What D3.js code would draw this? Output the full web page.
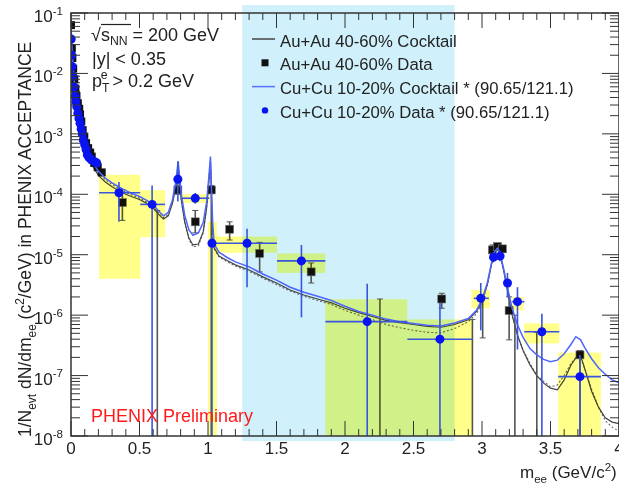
<!doctype html>
<html>
<head>
<meta charset='utf-8'>
<title>dielectron mass spectrum</title>
<script src='https://cdn.jsdelivr.net/npm/d3@7/dist/d3.min.js'></script>
<style>
  html,body{margin:0;padding:0;background:#fff;}
  svg{display:block;font-family:'Liberation Sans',Arial,sans-serif;}
  .blend{mix-blend-mode:multiply;}
</style>
</head>
<body>
<div id='chart'></div>
<script>
// ---- data ----
var massTicks = [0,0.5,1,1.5,2,2.5,3,3.5,4]
var decades   = [-8,-7,-6,-5,-4,-3,-2,-1]
var cyanBand  = [1.25,2.8]

// Cu+Cu cocktail, scaled
var cuCocktail = [[0,6e-2],[0.005,3.5e-2],[0.01,2.0e-2],[0.02,9.5e-3],[0.03,5.2e-3],[0.04,3.3e-3],[0.05,2.4e-3],[0.06,1.8e-3],
  [0.075,1.25e-3],[0.09,8.6e-4],[0.1,7.2e-4],[0.12,5.1e-4],[0.15,3.6e-4],[0.2,2.4e-4],[0.25,1.85e-4],[0.3,1.55e-4],[0.35,1.32e-4],
  [0.4,1.15e-4],[0.45,1.02e-4],[0.5,9.2e-5],[0.55,8.0e-5],[0.6,6.7e-5],[0.65,5.0e-5],[0.675,4.4e-5],[0.71,5.0e-5],[0.74,8.0e-5],
  [0.765,1.6e-4],[0.782,3.5e-4],[0.792,2.0e-4],[0.805,1.0e-4],[0.83,4.5e-5],[0.86,2.6e-5],[0.89,2.1e-5],[0.93,2.3e-5],[0.965,3.4e-5],
  [0.99,7.5e-5],[1.005,1.8e-4],[1.018,4.2e-4],[1.028,8e-5],[1.035,3e-5],[1.045,1.5e-5],[1.08,1.1e-5],[1.14,9e-6],[1.2,7.6e-6],
  [1.3,6.3e-6],[1.4,4.8e-6],[1.5,3.8e-6],[1.6,2.9e-6],[1.7,2.4e-6],[1.8,2.05e-6],[1.9,1.75e-6],[2.0,1.4e-6],[2.1,1.15e-6],
  [2.2,1.0e-6],[2.3,8.6e-7],[2.4,7.8e-7],[2.5,7.3e-7],[2.6,6.8e-7],[2.7,6.6e-7],[2.8,7.4e-7],[2.9,8.8e-7],[2.96,1.2e-6],
  [3.0,1.8e-6],[3.04,3.5e-6],[3.07,7.5e-6],[3.095,1.15e-5],[3.113,1.28e-5],[3.13,1.1e-5],[3.16,5.6e-6],[3.19,2.6e-6],
  [3.22,1.3e-6],[3.26,6.8e-7],[3.3,4.3e-7],[3.35,2.8e-7],[3.4,2.2e-7],[3.45,1.85e-7],[3.5,1.7e-7],[3.55,1.8e-7],[3.6,2.3e-7],
  [3.65,3.3e-7],[3.685,4.4e-7],[3.72,3.9e-7],[3.75,2.9e-7],[3.8,1.9e-7],[3.85,1.35e-7],[3.9,1.05e-7],[3.95,8.5e-8],[4.0,7.6e-8]]

// Au+Au cocktail (solid) and its dotted companion
var auCocktail = [[0,6e-2],[0.005,3.5e-2],[0.01,2.0e-2],[0.02,9.5e-3],[0.03,5.2e-3],[0.04,3.3e-3],[0.05,2.4e-3],[0.06,1.8e-3],
  [0.075,1.2e-3],[0.09,8.2e-4],[0.1,6.6e-4],[0.12,4.5e-4],[0.15,3.1e-4],[0.2,2.05e-4],[0.25,1.6e-4],[0.3,1.33e-4],[0.35,1.14e-4],
  [0.4,1.0e-4],[0.45,9.0e-5],[0.5,8.2e-5],[0.55,7.1e-5],[0.6,5.9e-5],[0.65,4.4e-5],[0.675,3.9e-5],[0.71,4.4e-5],[0.74,7.0e-5],
  [0.765,1.3e-4],[0.782,2.6e-4],[0.792,1.6e-4],[0.805,8e-5],[0.83,3.5e-5],[0.86,1.9e-5],[0.89,1.45e-5],[0.93,1.5e-5],[0.965,2.4e-5],
  [0.99,6e-5],[1.005,1.5e-4],[1.018,3.5e-4],[1.028,6e-5],[1.035,2.4e-5],[1.045,1.3e-5],[1.08,9.5e-6],[1.14,8e-6],[1.2,6.8e-6],
  [1.3,5.6e-6],[1.4,4.3e-6],[1.5,3.4e-6],[1.6,2.6e-6],[1.7,2.15e-6],[1.8,1.85e-6],[1.9,1.6e-6],[2.0,1.3e-6],[2.1,1.1e-6],
  [2.2,9.5e-7],[2.3,8.2e-7],[2.4,7.5e-7],[2.5,7.0e-7],[2.6,6.5e-7],[2.7,6.3e-7],[2.8,7.0e-7],[2.9,8.4e-7],[2.96,1.15e-6],
  [3.0,1.7e-6],[3.04,3.3e-6],[3.07,7e-6],[3.095,1.1e-5],[3.113,1.22e-5],[3.13,1.05e-5],[3.16,5.2e-6],[3.19,2.3e-6],[3.22,1.0e-6],
  [3.26,4.6e-7],[3.3,2.6e-7],[3.35,1.5e-7],[3.4,1.0e-7],[3.45,7.5e-8],[3.5,6.2e-8],[3.55,5.8e-8],[3.6,8.5e-8],[3.65,1.5e-7],
  [3.7,2.2e-7],[3.73,1.8e-7],[3.76,1.1e-7],[3.8,5.5e-8],[3.85,3e-8],[3.9,2.0e-8],[3.95,1.7e-8],[4.0,1.6e-8]]

var auCocktailDot = [[0.1,7.0e-4],[0.12,4.9e-4],[0.15,3.4e-4],[0.2,2.25e-4],[0.25,1.75e-4],[0.3,1.45e-4],[0.35,1.24e-4],
  [0.4,1.08e-4],[0.45,9.6e-5],[0.5,8.6e-5],[0.55,7.5e-5],[0.6,6.2e-5],[0.65,4.6e-5],[0.675,4.1e-5],[0.71,4.6e-5],[0.74,7.2e-5],
  [0.765,1.35e-4],[0.782,2.7e-4],[0.792,1.6e-4],[0.805,8e-5],[0.83,3.4e-5],[0.86,1.8e-5],[0.89,1.35e-5],[0.93,1.4e-5],
  [0.965,2.3e-5],[0.99,5.8e-5],[1.005,1.5e-4],[1.018,3.4e-4],[1.028,5.5e-5],[1.035,2.2e-5],[1.045,1.25e-5],[1.08,9.2e-6],
  [1.14,7.6e-6],[1.2,6.5e-6],[1.3,5.3e-6],[1.4,4.1e-6],[1.5,3.2e-6],[1.6,2.5e-6],[1.7,2.05e-6],[1.8,1.75e-6],[1.9,1.5e-6],
  [2.0,1.2e-6],[2.1,1.0e-6],[2.2,8.4e-7],[2.3,7.0e-7],[2.4,6.2e-7],[2.5,5.6e-7],[2.6,5.2e-7],[2.7,5.1e-7],[2.8,6.0e-7],
  [2.9,7.8e-7],[2.96,1.05e-6],[3.0,1.6e-6],[3.04,3.2e-6],[3.07,7e-6],[3.095,1.1e-5],[3.113,1.22e-5],[3.13,1.05e-5],
  [3.16,5.2e-6],[3.19,2.3e-6],[3.22,1.0e-6],[3.26,4.6e-7],[3.3,2.6e-7],[3.4,1.0e-7],[3.5,6.5e-8],[3.55,7e-8],[3.6,1.0e-7],
  [3.65,1.6e-7],[3.71,2.3e-7],[3.75,1.3e-7],[3.8,6e-8],[3.85,3e-8],[3.9,1.8e-8],[3.95,1.4e-8],[4.0,1.2e-8]]

// low-mass data points [m, value]
var cuLowMass = [[0.002,3.7e-2],[0.005,2.0e-2],[0.008,1.3e-2],[0.014,9e-3],[0.022,6e-3],[0.03,4.2e-3],[0.036,3.4e-3],
  [0.042,2.8e-3],[0.05,2.2e-3],[0.058,1.8e-3],[0.066,1.5e-3],[0.074,1.2e-3],[0.082,1.0e-3],[0.09,7.9e-4],[0.1,6.6e-4],
  [0.11,5.5e-4],[0.119,4.5e-4],[0.13,4.1e-4],[0.14,3.9e-4],[0.151,3.7e-4],[0.17,3.5e-4],[0.188,3.3e-4]]
var auLowMass = [[0.0,6.3e-2],[0.006,2.6e-2],[0.01,1.8e-2],[0.016,1.2e-2],[0.024,8e-3],[0.032,5.6e-3],[0.04,4.2e-3],
  [0.05,3.2e-3],[0.06,2.6e-3],[0.066,2.1e-3],[0.075,1.6e-3],[0.085,1.15e-3],[0.097,9e-4],[0.11,7e-4],[0.125,5.8e-4],
  [0.14,4.9e-4],[0.151,4.2e-4],[0.17,3.3e-4],[0.195,2.8e-4],[0.224,2.3e-4]]

// Cu+Cu binned data [m, value, mLo, mHi, errLo, errHi]
var cuBins = [[0.35,1.06e-4,0.205,0.505,3.5e-5,1.6e-4],[0.592,6.8e-5,0.505,0.687,1e-9,1.4e-4],
  [0.78,1.77e-4,0.78,0.78,7.6e-5,3.5e-4],[0.907,8.6e-5,0.81,1.01,7.0e-5,1.05e-4],[1.029,1.55e-5,1.0,1.065,1e-9,2.0e-5],
  [1.285,1.55e-5,1.065,1.504,2.9e-6,2.7e-5],[1.682,7.9e-6,1.504,1.857,9.2e-7,1.45e-5],[2.162,7.8e-7,1.857,2.455,1e-9,3.3e-6],
  [2.693,4.0e-7,2.455,2.93,1e-9,1.6e-6],[2.991,1.9e-6,2.94,3.05,5.6e-7,3.4e-6],[3.084,9.1e-6,3.084,3.084,7.5e-6,1.1e-5],
  [3.132,9.5e-6,3.132,3.132,7.8e-6,1.15e-5],[3.186,3.4e-6,3.186,3.186,2.0e-6,5.0e-6],[3.259,1.67e-6,3.22,3.31,2.7e-7,2.9e-6],
  [3.437,5.3e-7,3.308,3.564,1e-9,1.05e-6],[3.715,9.6e-8,3.556,3.868,1e-9,2.2e-7]]

// Au+Au binned data [m, value, errLo, errHi]
var auBins = [[0.375,7.3e-5,3.7e-5,1.2e-4],[0.78,1.18e-4,1.0e-4,1.4e-4],[0.907,3.5e-5,2.3e-5,5.4e-5],
  [1.024,1.18e-4,1e-9,1.4e-4],[1.158,2.64e-5,1.75e-5,3.5e-5],[1.377,1.05e-5,5.2e-6,1.6e-5],[1.753,5.2e-6,3.4e-6,7.3e-6],
  [2.706,1.85e-6,1.3e-6,2.3e-6],[3.076,1.2e-5,1.05e-5,1.45e-5],[3.113,1.36e-5,1.2e-5,1.55e-5],[3.149,1.25e-5,1.1e-5,1.4e-5],
  [3.198,1.19e-6,3.9e-7,2.0e-6],[3.715,2.2e-7,1e-9,2.6e-7]]
// Au+Au points whose marker sits off scale: only the error bar shows [m, errLo, errHi]
var auErrOnly = [[0.63,1e-9,5.4e-5],[2.255,1e-9,1.85e-6],[2.93,1e-9,8.5e-7],[3.005,4.2e-7,2.0e-6],[3.24,1e-9,1.0e-6],[3.40,1e-9,5.2e-7]]

// systematic boxes [mLo, mHi, lo, hi]
var sysBoxes = [[0.205,0.505,4.0e-6,2.1e-4],[0.505,0.687,1.95e-5,1.17e-4],[0.81,1.01,7.2e-5,1.0e-4],[1.0,1.065,1e-8,3.5e-5],
  [1.053,1.504,1.08e-5,2.0e-5],[1.504,1.857,5.0e-6,1.05e-5],[1.857,2.455,1e-8,1.83e-6],[2.455,2.93,1e-8,8.5e-7],
  [2.923,3.058,1.3e-6,2.6e-6],[3.17,3.2,2.8e-6,4.2e-6],[3.223,3.303,1.2e-6,2.0e-6],[3.308,3.564,3.4e-7,7.3e-7],[3.556,3.868,1e-8,2.4e-7]]

var legendItems = [
  {label:'Au+Au 40-60% Cocktail', kind:'line', color:'#444'},
  {label:'Au+Au 40-60% Data', kind:'square', color:'#111'},
  {label:'Cu+Cu 10-20% Cocktail * (90.65/121.1)', kind:'line', color:'#5a70ff'},
  {label:'Cu+Cu 10-20% Data * (90.65/121.1)', kind:'dot', color:'#0a14f0'}
]

// ---- drawing ----
var W = 619, H = 484
var x = d3.scaleLinear().domain([0,4]).range([71,619])
var y = d3.scaleLog().domain([1e-8,1e-1]).range([436,13])
var yc = function(v){ return y(Math.max(v,1e-9)) }

var svg = d3.select('#chart').append('svg').attr('width',W).attr('height',H)
svg.append('rect').attr('width',W).attr('height',H).attr('fill','#fff')

svg.append('clipPath').attr('id','plot')
   .append('rect').attr('x',71).attr('y',13).attr('width',548).attr('height',423)

// acceptance band, drawn a little past the frame like the original
svg.append('rect')
   .attr('x',x(cyanBand[0])).attr('width',x(cyanBand[1])-x(cyanBand[0]))
   .attr('y',5).attr('height',436)
   .attr('fill','#d0f1fb')

var line = d3.line().x(function(d){ return x(d[0]) }).y(function(d){ return yc(d[1]) })

// under the boxes: Au+Au cocktail and data
var gA = svg.append('g').attr('clip-path','url(#plot)')
gA.append('path').datum(auCocktailDot).attr('d',line)
  .attr('fill','none').attr('stroke','#666').attr('stroke-width',1.1).attr('stroke-dasharray','2,2')
gA.append('path').datum(auCocktail).attr('d',line)
  .attr('fill','none').attr('stroke','#444').attr('stroke-width',1.2)

var gray = '#555'
function vbar(sel, xv, lo, hi, color, w, cap){
  sel.append('line').attr('x1',x(xv)).attr('x2',x(xv)).attr('y1',yc(lo)).attr('y2',yc(hi))
     .attr('stroke',color).attr('stroke-width',w)
  if(cap){
    [lo,hi].forEach(function(v){
      if(v > 1e-8) sel.append('line').attr('x1',x(xv)-3).attr('x2',x(xv)+3).attr('y1',yc(v)).attr('y2',yc(v))
                      .attr('stroke',color).attr('stroke-width',1)
    })
  }
}
auErrOnly.forEach(function(d){ vbar(gA, d[0], d[1], d[2], gray, 1.6, true) })
auBins.forEach(function(d){ vbar(gA, d[0], d[2], d[3], gray, 1.6, true) })
gA.selectAll('.sqLow').data(auLowMass).enter().append('rect')
  .attr('x',function(d){ return x(d[0])-4 }).attr('y',function(d){ return yc(d[1])-4 })
  .attr('width',8).attr('height',8).attr('fill','#111')
gA.selectAll('.sq').data(auBins).enter().append('rect')
  .attr('x',function(d){ return x(d[0])-4 }).attr('y',function(d){ return yc(d[1])-4 })
  .attr('width',8).attr('height',8).attr('fill','#111').attr('stroke','#777').attr('stroke-width',0.6)

// systematic boxes at top level so they multiply onto the band
svg.selectAll('.sys').data(sysBoxes).enter().append('rect')
  .attr('class','blend')
  .attr('x',function(d){ return x(d[0]) }).attr('width',function(d){ return x(d[1])-x(d[0]) })
  .attr('y',function(d){ return y(d[3]) }).attr('height',function(d){ return y(d[2])-y(d[3]) })
  .attr('fill','#ffff8a')

// over the boxes: Cu+Cu cocktail and data
var gB = svg.append('g').attr('clip-path','url(#plot)')
gB.append('path').datum(cuCocktail).attr('d',line)
  .attr('fill','none').attr('stroke','#4d66ff').attr('stroke-width',1.5)

var blueErr = '#3a55dd'
cuBins.forEach(function(d){
  vbar(gB, d[0], d[4], d[5], blueErr, 1.6, false)
  if(d[3] > d[2])
    gB.append('line').attr('x1',x(d[2])).attr('x2',x(d[3])).attr('y1',yc(d[1])).attr('y2',yc(d[1]))
      .attr('stroke',blueErr).attr('stroke-width',1.6)
})
gB.selectAll('.dotLow').data(cuLowMass).enter().append('circle')
  .attr('cx',function(d){ return x(d[0]) }).attr('cy',function(d){ return yc(d[1]) })
  .attr('r',4.5).attr('fill','#0a14f0')
gB.selectAll('.dot').data(cuBins).enter().append('circle')
  .attr('cx',function(d){ return x(d[0]) }).attr('cy',function(d){ return yc(d[1]) })
  .attr('r',4.5).attr('fill','#0a14f0')

// frame and ticks
var axis = svg.append('g').attr('stroke','#333')
axis.append('rect').attr('x',71).attr('y',13).attr('width',548).attr('height',423)
    .attr('fill','none').attr('stroke-width',1.5)
x.ticks(40).forEach(function(v){
  var major = Math.abs(v*2 - Math.round(v*2)) < 1e-6
  var len = major ? 15 : 7
  axis.append('line').attr('x1',x(v)).attr('x2',x(v)).attr('y1',436).attr('y2',436-len)
  axis.append('line').attr('x1',x(v)).attr('x2',x(v)).attr('y1',13).attr('y2',13+len)
})
y.ticks().forEach(function(v){
  var lg = Math.log10(v)
  var major = Math.abs(lg - Math.round(lg)) < 1e-6
  var len = major ? 17 : 9
  axis.append('line').attr('x1',71).attr('x2',71+len).attr('y1',y(v)).attr('y2',y(v))
  axis.append('line').attr('x1',619).attr('x2',619-len).attr('y1',y(v)).attr('y2',y(v))
})

// rich text helper: parts = [[text, 'sub'|'sup'|null, dx]]
function rich(t, parts, size, subShift){
  var shift = 0
  parts.forEach(function(p){
    var target = p[1] === 'sub' ? size*(subShift || 0.3) : p[1] === 'sup' ? -size*0.42 : 0
    var ts = t.append('tspan').attr('dy',target - shift)
              .attr('font-size', p[1] ? size*0.68 : size).text(p[0])
    if(p[2]) ts.attr('dx',p[2])
    shift = target
  })
  return t
}

var txt = '#222'
// tick labels
massTicks.forEach(function(v){
  svg.append('text').attr('x',x(v)).attr('y',454).attr('text-anchor','middle')
     .attr('font-size',17).attr('fill',txt).text(String(v))
})
decades.forEach(function(d){
  var t = svg.append('text').attr('x',63).attr('y',y(Math.pow(10,d))+9).attr('text-anchor','end').attr('fill',txt)
  rich(t, [['10',null],[String(d),'sup']], 17)
})

// axis titles
var xt = svg.append('text').attr('x',520).attr('y',478).attr('fill',txt)
rich(xt, [['m',null],['ee','sub'],[' (GeV/c',null],['2','sup'],[')',null]], 17)

var yt = svg.append('text').attr('transform','translate(31,437) rotate(-90)').attr('fill',txt)
rich(yt, [['1/N',null],['evt','sub'],[' dN/dm',null],['ee','sub'],[' (c',null],['2','sup'],
          ['/GeV) in PHENIX ACCEPTANCE',null]], 17.5)

// info text
var info = svg.append('g').attr('fill',txt).attr('font-size',18)
var t1 = info.append('text').attr('x',91).attr('y',41)
rich(t1, [['\u221A',null],['s',null],['NN','sub'],[' = 200 GeV',null]], 18, 0.2)
info.append('line').attr('x1',101).attr('x2',131).attr('y1',24.5).attr('y2',24.5)
    .attr('stroke',txt).attr('stroke-width',1.2)
info.append('text').attr('x',92).attr('y',65).text('|y| < 0.35')
var t3 = info.append('text').attr('x',92).attr('y',87)
rich(t3, [['p',null],['T','sub'],['e','sup',-7.5],[' > 0.2 GeV',null]], 18)

// legend
var leg = svg.append('g')
legendItems.forEach(function(d,i){
  var cy = 39 + i*23.8
  if(d.kind === 'line')
    leg.append('line').attr('x1',252).attr('x2',275).attr('y1',cy).attr('y2',cy)
       .attr('stroke',d.color).attr('stroke-width',1.5)
  else if(d.kind === 'square')
    leg.append('rect').attr('x',261.5).attr('y',cy-3.5).attr('width',7).attr('height',7).attr('fill',d.color)
  else
    leg.append('circle').attr('cx',265).attr('cy',cy).attr('r',3.2).attr('fill',d.color)
  leg.append('text').attr('x',280).attr('y',cy+7.5).attr('font-size',16.7).attr('fill',txt).text(d.label)
})

svg.append('text').attr('x',91).attr('y',422).attr('font-size',18).attr('fill','#ff1a1a')
   .text('PHENIX Preliminary')
</script>
</body>
</html>
